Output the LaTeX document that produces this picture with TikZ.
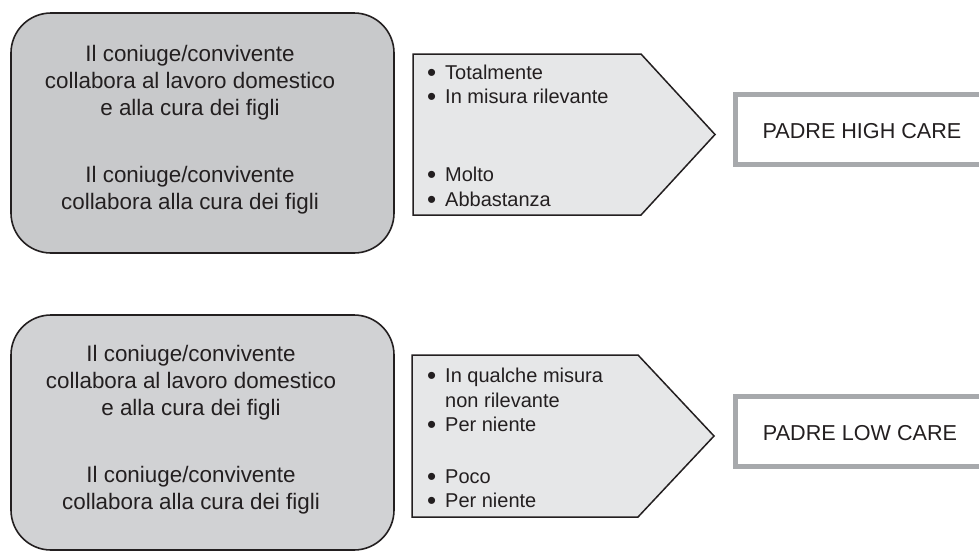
\documentclass[tikz,border=0pt]{standalone}
\usepackage{fontspec}
\setmainfont{Liberation Sans}
\definecolor{txt}{HTML}{231F20}
\definecolor{darkfill}{HTML}{C8C9CB}
\definecolor{lightfill}{HTML}{D1D2D4}
\definecolor{pentfill}{HTML}{E6E7E8}
\definecolor{framecol}{HTML}{A7A9AC}
\tikzset{
  rbox/.style={draw=txt, line width=1.6pt, rounded corners=40pt, rectangle, minimum width=383pt, inner sep=0pt},
  rtext/.style={text=txt, align=center, font=\fontsize{22.4}{27}\selectfont, inner sep=0pt},
  btext/.style={text=txt, align=left, anchor=west, font=\fontsize{20}{24.5}\selectfont, inner sep=0pt},
  pent/.style={draw=txt, line width=1.5pt, fill=pentfill, line join=miter},
  framebox/.style={draw=framecol, line width=5pt, fill=white, rectangle, minimum width=260pt, minimum height=70pt, inner sep=0pt},
  ftext/.style={text=txt, font=\fontsize{21.6}{26}\selectfont, inner sep=0pt}
}
\newcommand{\bl}[1]{\makebox[18pt][l]{\raisebox{-2pt}{\scalebox{1.3}{\textbullet}}}#1}
\newcommand{\nb}[1]{\makebox[18pt][l]{}#1}
\begin{document}
\begin{tikzpicture}[x=1pt,y=-1pt]
\useasboundingbox (0,0) rectangle (979,552);
\clip (0,0) rectangle (979,552);
% top row
\node[rbox, fill=darkfill, minimum height=240pt] (r1) at (202.5,133) {};
\node[rtext] (r1a) at (190,83) {Il coniuge/convivente\\collabora al lavoro domestico\\e alla cura dei figli};
\node[rtext] (r1b) at (190,190) {Il coniuge/convivente\\collabora alla cura dei figli};
\coordinate (p1a) at (413,54);
\coordinate (p1b) at (641,54);
\coordinate (p1c) at (715,134.5);
\coordinate (p1d) at (641,215);
\coordinate (p1e) at (413,215);
\draw[pent] (p1a) -- (p1b) -- (p1c) -- (p1d) -- (p1e) -- cycle;
\node[btext] (b1a) at (427,85) {\bl{Totalmente}\\\bl{In misura rilevante}};
\node[btext] (b1b) at (427,187.5) {\bl{Molto}\\\bl{Abbastanza}};
\node[framebox] (h1) at (865.5,129.5) {};
\node[ftext] (h1t) at (862,131) {PADRE HIGH CARE};
% bottom row
\node[rbox, fill=lightfill, minimum height=235pt] (r2) at (202.5,432.5) {};
\node[rtext] (r2a) at (191,383) {Il coniuge/convivente\\collabora al lavoro domestico\\e alla cura dei figli};
\node[rtext] (r2b) at (191,490) {Il coniuge/convivente\\collabora alla cura dei figli};
\coordinate (p2a) at (412,355);
\coordinate (p2b) at (638,355);
\coordinate (p2c) at (714,436);
\coordinate (p2d) at (638,517);
\coordinate (p2e) at (412,517);
\draw[pent] (p2a) -- (p2b) -- (p2c) -- (p2d) -- (p2e) -- cycle;
\node[btext] (b2a) at (427,401) {\bl{In qualche misura}\\\nb{non rilevante}\\\bl{Per niente}};
\node[btext] (b2b) at (427,489.5) {\bl{Poco}\\\bl{Per niente}};
\node[framebox] (h2) at (865.5,431.5) {};
\node[ftext] (h2t) at (860,433) {PADRE LOW CARE};
\end{tikzpicture}
\end{document}
